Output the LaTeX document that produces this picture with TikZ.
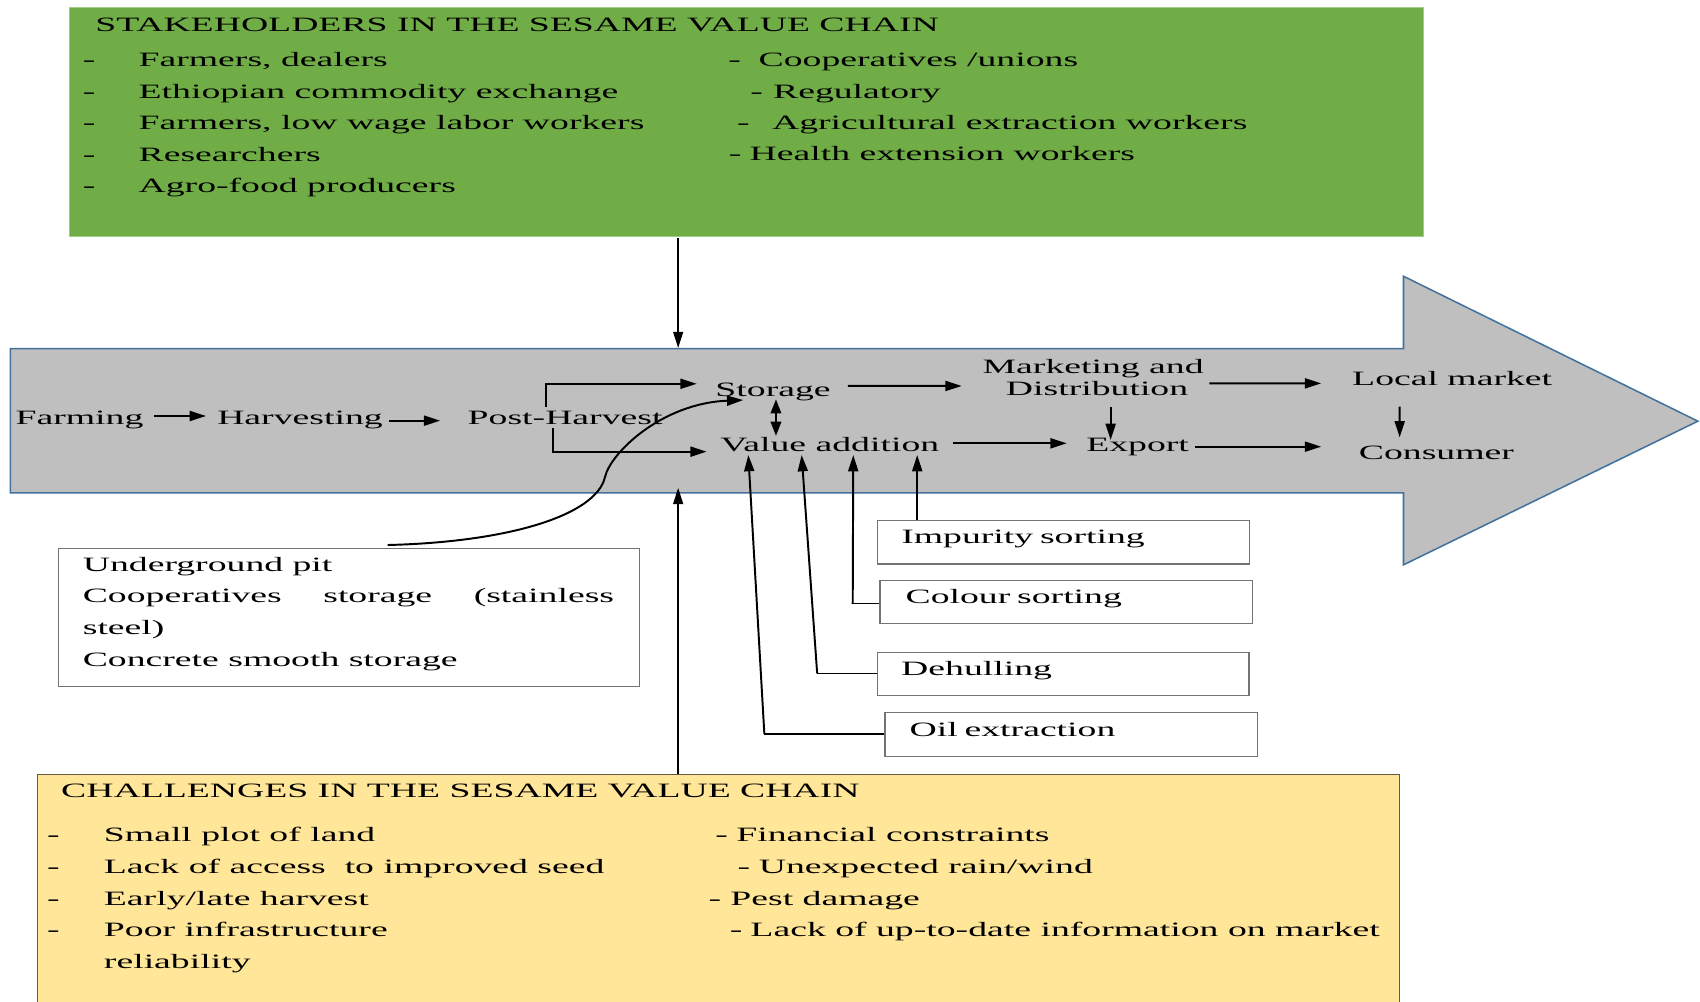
\documentclass[tikz,border=0pt]{standalone}
\usepackage{fontspec}
\setmainfont{Liberation Serif}[FakeStretch=1.85]
\usetikzlibrary{arrows.meta,calc}
\definecolor{stakegreen}{RGB}{112,173,71}
\definecolor{stakeedge}{RGB}{160,205,130}
\definecolor{chalyellow}{RGB}{255,230,153}
\definecolor{chaledge}{RGB}{100,90,70}
\definecolor{chaingray}{RGB}{191,191,191}
\definecolor{chainedge}{RGB}{65,113,156}
\newcommand\fs{\fontsize{9.4}{14.6}\selectfont}
\newcommand\dsh[2]{\makebox[#1][l]{-}#2}
\tikzset{
  txt/.style={anchor=base west, inner sep=0pt, font=\fs},
  arr/.style={-{Triangle[length=7.5pt,width=4.6pt]}, line width=0.9pt},
  dblarr/.style={{Triangle[length=6.5pt,width=4.8pt]}-{Triangle[length=6.5pt,width=4.8pt]}, line width=1pt},
  thinln/.style={line width=0.5pt},
  sbox/.style={draw=black!55, line width=0.6pt, fill=white, inner ysep=0pt, anchor=north west, align=left, font=\fs, text height=6.5pt, text depth=5pt}
}
\begin{document}
\begin{tikzpicture}[x=0.5pt,y=-0.5pt]
\useasboundingbox (0,0) rectangle (1568,924);
\fill[white] (0,0) rectangle (1568,924);

% stakeholders box
\node[draw=stakeedge, fill=stakegreen, line width=0.5pt, anchor=north west, inner sep=0pt,
  minimum width=624.2pt, minimum height=105.45pt] (stake) at (64,6.8) {};
\node[txt] (stitle) at (87.5,29.2) {STAKEHOLDERS IN THE SESAME VALUE CHAIN};
\node[txt] (s1) at (76,61.5) {\dsh{25.75pt}{Farmers, dealers}};
\node[txt] (s2) at (76,90.5) {\dsh{25.75pt}{Ethiopian commodity exchange}};
\node[txt] (s3) at (76,119.5) {\dsh{25.75pt}{Farmers, low wage labor workers}};
\node[txt] (s4) at (76,149) {\dsh{25.75pt}{Researchers}};
\node[txt] (s5) at (76,178) {\dsh{25.75pt}{Agro-food producers}};
\node[txt] (s6) at (671.5,61.2) {\dsh{13.95pt}{Cooperatives /unions}};
\node[txt] (s7) at (691.8,90.7) {\dsh{10.45pt}{Regulatory}};
\node[txt] (s8) at (679.5,119.3) {\dsh{16.1pt}{Agricultural extraction workers}};
\node[txt] (s9) at (671.8,148.5) {\dsh{9.65pt}{Health extension workers}};

% big chain arrow
\draw[fill=chaingray, draw=chainedge, line width=0.7pt]
  (9.5,321.5) -- (1294.5,321.5) -- (1294.5,254.8) -- (1566,388.5) -- (1294.5,521) -- (1294.5,454.5) -- (9.5,454.5) -- cycle;
\coordinate (ctop) at (625.5,321);
\coordinate (cbot) at (625.5,450);

% chain labels
\node[txt] (farm) at (14,392) {Farming};
\node[txt] (harv) at (200,392) {Harvesting};
\node[txt] (ph) at (431,392) {Post-Harvest};
\node[txt] (stor) at (659.5,365.5) {Storage};
\node[txt] (val) at (664,416) {Value addition};
\node[txt] (mkt) at (906,344.3) {Marketing and};
\node[txt] (mkt2) at (927.4,365.2) {Distribution};
\node[txt] (loc) at (1246.8,356) {Local market};
\node[txt] (exp) at (1001.5,416) {Export};
\node[txt] (cons) at (1253,423.6) {Consumer};

% chain connectors
\draw[arr] ($(farm.base west)+(128.5,-8.3)$) -- ($(harv.base west)+(-10,-8.3)$);
\draw[arr] ($(harv.base west)+(159,-4)$) -- ($(ph.base west)+(-25,-4)$);
\draw[arr] ($(ph.base west)+(72.6,-17)$) |- ($(stor.base west)+(-16.9,-11.5)$);
\draw[arr] ($(ph.base west)+(79.4,2.8)$) |- ($(val.base west)+(-12.2,0.6)$);
\draw[dblarr] ($(stor.base west)+(56.2,2.8)$) -- ($(val.base west)+(51.7,-14)$);
\draw[arr] ($(stor.base west)+(122.5,-9.5)$) -- ($(mkt.base west)+(-19,11.7)$);
\draw[arr] ($(mkt.base west)+(209.5,9.3)$) -- ($(loc.base west)+(-28.2,-2.4)$);
\draw[arr] ($(mkt2.base west)+(97,9.8)$) -- ($(exp.base west)+(22.9,-10.2)$);
\draw[arr] ($(val.base west)+(215,-7.1)$) -- ($(exp.base west)+(-17.6,-7.1)$);
\draw[arr] ($(exp.base west)+(100.5,-4)$) -- ($(cons.base west)+(-34.4,-11.6)$);
\draw[arr] ($(loc.base west)+(44.2,19)$) -- ($(cons.base west)+(38,-20.2)$);

% storage options box
\node[draw=black!55, line width=0.6pt, fill=white, anchor=north west, inner sep=0pt,
  minimum width=267.75pt, minimum height=63.85pt] (stbox) at (53.5,505) {};
\node[txt] (st1) at (76,526.7) {Underground pit};
\node[txt] (st2) at (76,555.9) {\makebox[245pt][s]{Cooperatives\hfill storage\hfill (stainless}};
\node[txt] (st3) at (76,585) {steel)};
\node[txt] (st4) at (76,614.3) {Concrete smooth storage};
\draw[arr] ($(stbox.north west)+(304,-2.3)$) .. controls (470,500) and (550,475) .. (558,440)
  .. controls (563,418) and (610,372) .. ($(stor.base west)+(26,3.5)$);

% value addition boxes
\node[sbox, text width=149.6pt, inner xsep=11.05pt, minimum height=20pt] (imp) at (808.6,479.6) {Impurity sorting};
\node[sbox, text width=148.05pt, inner xsep=11.85pt, minimum height=19.65pt] (col) at (811,535) {Colour sorting};
\node[sbox, text width=149.4pt, inner xsep=11pt, minimum height=20pt] (deh) at (808.6,601) {Dehulling};
\node[sbox, text width=148.9pt, inner xsep=11.4pt, minimum height=20.45pt] (oil) at (815.6,656.4) {Oil extraction};

\draw[arr] ($(imp.north west)+(37.4,0)$) -- ($(val.base west)+(182,3.7)$);
\draw[thinln] ($(col.north west)+(0,22)$) -- ++(-24.5,0) coordinate (ccol);
\draw[arr] (ccol) -- ($(val.base west)+(123,3.7)$);
\draw[thinln] ($(deh.north west)+(0,20)$) -- ++(-54.9,0) coordinate (cdeh);
\draw[arr] (cdeh) -- ($(val.base west)+(75.4,3.7)$);
\draw[thinln] ($(oil.north west)+(0,20.6)$) -- ++(-110.6,0) coordinate (coil);
\draw[arr] (coil) -- ($(val.base west)+(26.2,3.7)$);

% challenges box
\node[draw=chaledge, fill=chalyellow, line width=0.6pt, anchor=north west, inner sep=0pt,
  minimum width=628pt, minimum height=108pt] (chal) at (34,713.9) {};
\node[txt] (ctitle) at (56,735.4) {CHALLENGES IN THE SESAME VALUE CHAIN};
\node[txt] (c1) at (43,776.5) {\dsh{26.25pt}{Small plot of land}};
\node[txt] (c2) at (43,805.5) {\dsh{26.25pt}{Lack of access\ \ to improved seed}};
\node[txt] (c3) at (43,835) {\dsh{26.25pt}{Early/late harvest}};
\node[txt] (c4) at (43,864) {\dsh{26.25pt}{Poor infrastructure}};
\node[txt] (c5) at (95.5,893.5) {reliability};
\node[txt] (c6) at (659.5,776.5) {\dsh{9.65pt}{Financial constraints}};
\node[txt] (c7) at (680,805.5) {\dsh{9.75pt}{Unexpected rain/wind}};
\node[txt] (c8) at (653.3,835) {\dsh{10pt}{Pest damage}};
\node[txt] (c9) at (672.7,864) {\dsh{9.55pt}{Lack of up-to-date information on market}};

% vertical links to chain
\draw[arr, line width=0.7pt] ($(stake.south west)+(561.5,1)$) -- (ctop);
\draw[arr, line width=0.7pt] ($(chal.north west)+(591.5,0)$) -- (cbot);
\end{tikzpicture}
\end{document}
